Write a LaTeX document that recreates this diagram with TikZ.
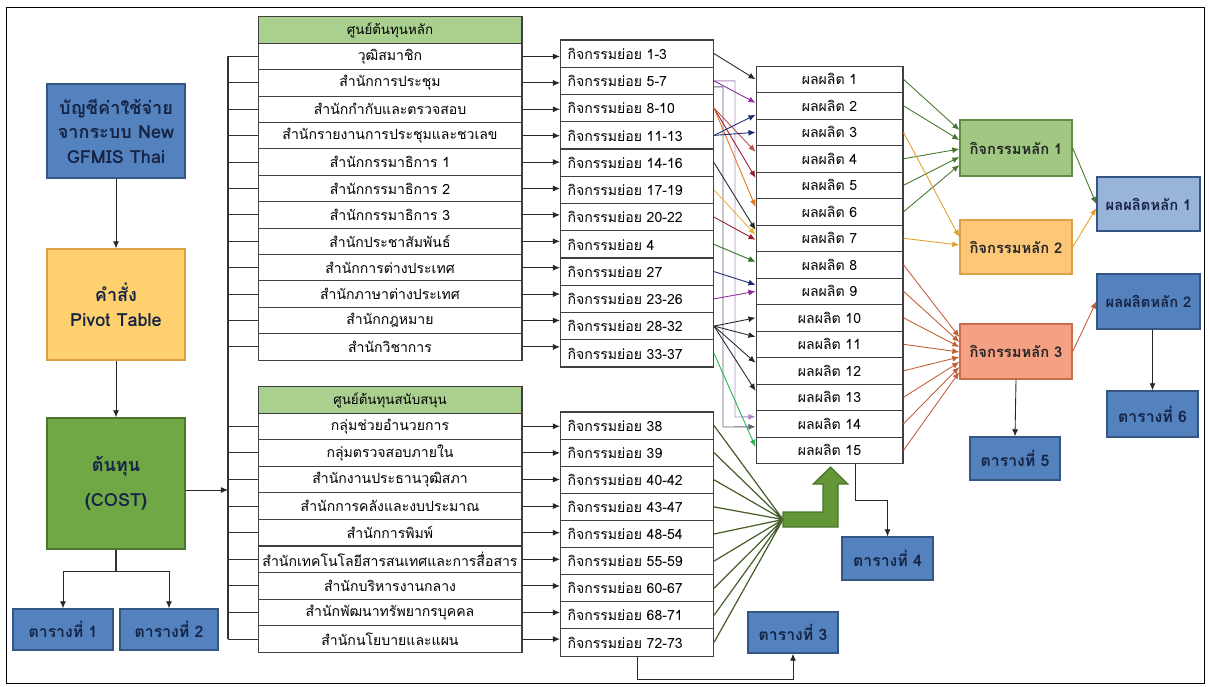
\documentclass[tikz,border=0pt]{standalone}
\usepackage{fontspec}
\newfontfamily\thaifont[Script=Thai]{Loma}
\usetikzlibrary{arrows.meta}

\definecolor{boxblue}{RGB}{84,130,190}
\definecolor{boxblueline}{RGB}{52,86,130}
\definecolor{boxlblue}{RGB}{152,180,216}
\definecolor{boxyellow}{RGB}{255,209,110}
\definecolor{boxyellowline}{RGB}{222,160,70}
\definecolor{boxgreen}{RGB}{112,168,70}
\definecolor{boxgreenline}{RGB}{76,118,44}
\definecolor{headgreen}{RGB}{169,208,142}
\definecolor{actone}{RGB}{160,200,130}
\definecolor{actoneline}{RGB}{100,140,70}
\definecolor{acttwo}{RGB}{252,200,120}
\definecolor{acttwoline}{RGB}{220,160,70}
\definecolor{actthree}{RGB}{244,160,130}
\definecolor{actthreeline}{RGB}{200,110,80}
\definecolor{textnavy}{RGB}{22,36,70}
\definecolor{lnblack}{RGB}{40,40,40}
\definecolor{lnpurple}{RGB}{140,45,150}
\definecolor{lnlav}{RGB}{175,135,195}
\definecolor{lnnavy}{RGB}{30,45,110}
\definecolor{lnslate}{RGB}{95,100,120}
\definecolor{lnred}{RGB}{192,80,77}
\definecolor{lnorange}{RGB}{228,120,30}
\definecolor{lngold}{RGB}{232,180,60}
\definecolor{lndred}{RGB}{150,30,50}
\definecolor{lndgreen}{RGB}{50,110,40}
\definecolor{lngreen}{RGB}{40,180,80}
\definecolor{lnact}{RGB}{70,120,45}
\definecolor{lnactgold}{RGB}{225,160,40}
\definecolor{lnbrown}{RGB}{195,95,55}
\definecolor{lnolive}{RGB}{70,95,45}
\definecolor{arrowgreen}{RGB}{98,150,55}

\begin{document}
\begin{tikzpicture}[
		x=0.02cm, y=-0.02cm,
		font=\thaifont\fontsize{8}{10}\selectfont,
		bigbox/.style={rectangle, line width=0.8pt, align=center, text=textnavy,
			font=\thaifont\bfseries\fontsize{10.3}{14}\selectfont,
			minimum width=2.76cm, inner sep=2pt},
		tbl/.style={rectangle, draw=boxblueline, fill=boxblue, line width=0.8pt,
			text=textnavy, font=\thaifont\bfseries\fontsize{9}{11}\selectfont,
			minimum height=0.82cm, inner sep=0pt},
		ccrow/.style={rectangle, draw=black!75, line width=0.6pt, fill=white,
			minimum width=5.28cm, minimum height=0.53cm, inner sep=0pt},
		cchead/.style={ccrow, fill=headgreen, font=\thaifont\fontsize{7.6}{10}\selectfont},
		subrow/.style={rectangle, draw=black!75, line width=0.6pt, fill=white,
			text width=2.78cm, align=left, inner xsep=0.14cm, inner ysep=0pt,
			minimum height=0.545cm},
		prodrow/.style={rectangle, draw=black!75, line width=0.6pt, fill=white,
			minimum width=2.94cm, minimum height=0.53cm, inner sep=0pt},
		actbox/.style={rectangle, line width=0.8pt, minimum width=2.24cm,
			minimum height=1.1cm, inner sep=0pt, text=black!85,
			font=\thaifont\bfseries\fontsize{8.4}{11}\selectfont},
		seq/.style={-{Latex[length=4pt,width=3.4pt]}, line width=0.5pt, draw=lnblack},
		brk/.style={line width=0.6pt, draw=black!80},
		fanl/.style={line width=0.7pt, draw=lnolive}
	]
		\useasboundingbox (0,0) rectangle (1209,686);
		\draw[line width=0.5pt] (6,7) rectangle (1204,683);
		% คอลัมน์ซ้าย
		\node[bigbox, draw=boxblueline, fill=boxblue, minimum height=1.88cm] (SRC) at (116,131) {บัญชีค่าใช้จ่าย\\จากระบบ New\\GFMIS Thai};
		\node[bigbox, draw=boxyellowline, fill=boxyellow, minimum height=2.22cm] (PIV) at (116,304.5) {คำสั่ง\\Pivot Table};
		\node[bigbox, draw=boxgreenline, fill=boxgreen, minimum height=2.62cm] (COST) at (116,483.5) {ต้นทุน\\[6pt](COST)};
		\node[tbl, minimum width=2.0cm] (T1) at (63,629.5) {ตารางที่ 1};
		\node[tbl, minimum width=1.96cm] (T2) at (169,629.5) {ตารางที่ 2};
		% ศูนย์ต้นทุนหลัก
		\node[cchead] (hCC) at (390,30) {ศูนย์ต้นทุนหลัก};
		\node[ccrow] (CC01) at (390,56.5) {วุฒิสมาชิก};
		\node[ccrow] (CC02) at (390,82.9) {สำนักการประชุม};
		\node[ccrow] (CC03) at (390,109.3) {สำนักกำกับและตรวจสอบ};
		\node[ccrow] (CC04) at (390,135.7) {สำนักรายงานการประชุมและชวเลข};
		\node[ccrow] (CC05) at (390,162.1) {สำนักกรรมาธิการ 1};
		\node[ccrow] (CC06) at (390,188.5) {สำนักกรรมาธิการ 2};
		\node[ccrow] (CC07) at (390,214.9) {สำนักกรรมาธิการ 3};
		\node[ccrow] (CC08) at (390,241.3) {สำนักประชาสัมพันธ์};
		\node[ccrow] (CC09) at (390,267.7) {สำนักการต่างประเทศ};
		\node[ccrow] (CC10) at (390,294.1) {สำนักภาษาต่างประเทศ};
		\node[ccrow] (CC11) at (390,320.5) {สำนักกฎหมาย};
		\node[ccrow] (CC12) at (390,346.9) {สำนักวิชาการ};
		% ศูนย์ต้นทุนสนับสนุน
		\node[cchead] (hSC) at (390,400) {ศูนย์ต้นทุนสนับสนุน};
		\node[ccrow] (SC01) at (390,426.3) {กลุ่มช่วยอำนวยการ};
		\node[ccrow] (SC02) at (390,452.9) {กลุ่มตรวจสอบภายใน};
		\node[ccrow] (SC03) at (390,479.5) {สำนักงานประธานวุฒิสภา};
		\node[ccrow] (SC04) at (390,506.1) {สำนักการคลังและงบประมาณ};
		\node[ccrow] (SC05) at (390,532.7) {สำนักการพิมพ์};
		\node[ccrow] (SC06) at (390,559.3) {สำนักเทคโนโลยีสารสนเทศและการสื่อสาร};
		\node[ccrow] (SC07) at (390,585.9) {สำนักบริหารงานกลาง};
		\node[ccrow] (SC08) at (390,612.5) {สำนักพัฒนาทรัพยากรบุคคล};
		\node[ccrow] (SC09) at (390,639.1) {สำนักนโยบายและแผน};
		% กิจกรรมย่อย
		\node[subrow] (SA01) at (637,53.6) {กิจกรรมย่อย 1-3};
		\node[subrow] (SA02) at (637,80.9) {กิจกรรมย่อย 5-7};
		\node[subrow] (SA03) at (637,108.1) {กิจกรรมย่อย 8-10};
		\node[subrow] (SA04) at (637,135.4) {กิจกรรมย่อย 11-13};
		\node[subrow] (SA05) at (637,162.6) {กิจกรรมย่อย 14-16};
		\node[subrow] (SA06) at (637,189.9) {กิจกรรมย่อย 17-19};
		\node[subrow] (SA07) at (637,217.1) {กิจกรรมย่อย 20-22};
		\node[subrow] (SA08) at (637,244.4) {กิจกรรมย่อย 4};
		\node[subrow] (SA09) at (637,271.6) {กิจกรรมย่อย 27};
		\node[subrow] (SA10) at (637,298.9) {กิจกรรมย่อย 23-26};
		\node[subrow] (SA11) at (637,326.1) {กิจกรรมย่อย 28-32};
		\node[subrow] (SA12) at (637,353.4) {กิจกรรมย่อย 33-37};
		\node[subrow] (SB01) at (637,425.6) {กิจกรรมย่อย 38};
		\node[subrow] (SB02) at (637,452.7) {กิจกรรมย่อย 39};
		\node[subrow] (SB03) at (637,479.8) {กิจกรรมย่อย 40-42};
		\node[subrow] (SB04) at (637,506.9) {กิจกรรมย่อย 43-47};
		\node[subrow] (SB05) at (637,534.0) {กิจกรรมย่อย 48-54};
		\node[subrow] (SB06) at (637,561.1) {กิจกรรมย่อย 55-59};
		\node[subrow] (SB07) at (637,588.2) {กิจกรรมย่อย 60-67};
		\node[subrow] (SB08) at (637,615.3) {กิจกรรมย่อย 68-71};
		\node[subrow] (SB09) at (637,642.4) {กิจกรรมย่อย 72-73};
		% ผลผลิต
		\node[prodrow] (PD01) at (829.5,79.3) {ผลผลิต 1};
		\node[prodrow] (PD02) at (829.5,105.8) {ผลผลิต 2};
		\node[prodrow] (PD03) at (829.5,132.3) {ผลผลิต 3};
		\node[prodrow] (PD04) at (829.5,158.8) {ผลผลิต 4};
		\node[prodrow] (PD05) at (829.5,185.3) {ผลผลิต 5};
		\node[prodrow] (PD06) at (829.5,211.8) {ผลผลิต 6};
		\node[prodrow] (PD07) at (829.5,238.3) {ผลผลิต 7};
		\node[prodrow] (PD08) at (829.5,264.8) {ผลผลิต 8};
		\node[prodrow] (PD09) at (829.5,291.3) {ผลผลิต 9};
		\node[prodrow] (PD10) at (829.5,317.8) {ผลผลิต 10};
		\node[prodrow] (PD11) at (829.5,344.3) {ผลผลิต 11};
		\node[prodrow] (PD12) at (829.5,370.8) {ผลผลิต 12};
		\node[prodrow] (PD13) at (829.5,397.3) {ผลผลิต 13};
		\node[prodrow] (PD14) at (829.5,423.8) {ผลผลิต 14};
		\node[prodrow] (PD15) at (829.5,450.3) {ผลผลิต 15};
		% กิจกรรมหลัก + ผลผลิตหลัก
		\node[actbox, draw=actoneline, fill=actone, minimum height=1.12cm] (MA1) at (1016,148) {กิจกรรมหลัก 1};
		\node[actbox, draw=acttwoline, fill=acttwo, minimum height=1.08cm] (MA2) at (1016,247) {กิจกรรมหลัก 2};
		\node[actbox, draw=actthreeline, fill=actthree] (MA3) at (1016,351.5) {กิจกรรมหลัก 3};
		\node[actbox, draw=boxblueline, fill=boxlblue, text=textnavy, minimum width=2.06cm, minimum height=1.08cm] (MP1) at (1148.5,204) {ผลผลิตหลัก 1};
		\node[actbox, draw=boxblueline, fill=boxblue, text=textnavy, minimum width=2.06cm] (MP2) at (1148.5,301.5) {ผลผลิตหลัก 2};
		\node[tbl, minimum width=1.8cm] (T3) at (793,632.5) {ตารางที่ 3};
		\node[tbl, minimum width=1.82cm, minimum height=0.86cm] (T4) at (887.5,558.5) {ตารางที่ 4};
		\node[tbl, minimum width=1.8cm, minimum height=0.86cm] (T5) at (1015,458.5) {ตารางที่ 5};
		\node[tbl, minimum width=1.82cm, minimum height=0.92cm] (T6) at (1152.5,414) {ตารางที่ 6};
		% ลำดับคอลัมน์ซ้าย
		\draw[seq] (SRC) -- (PIV);
		\draw[seq] (PIV) -- (COST);
		\coordinate (B12) at (116,571);
		\draw[brk] (COST.south) -- (B12);
		\draw[seq] (B12) -| (T1.north);
		\draw[seq] (B12) -| (T2.north);
		% วงเล็บรวมศูนย์ต้นทุน
		\coordinate (BR) at (228,0);
		\coordinate (BRin) at (228,490);
		\draw[seq] (COST.east |- BRin) -- (BRin);
		\draw[brk] (BR |- CC01) -- (BR |- SC09);
		\draw[brk] (BR |- CC01) -- (CC01.west) (BR |- CC02) -- (CC02.west) (BR |- CC03) -- (CC03.west)
			(BR |- CC04) -- (CC04.west) (BR |- CC05) -- (CC05.west) (BR |- CC06) -- (CC06.west)
			(BR |- CC07) -- (CC07.west) (BR |- CC08) -- (CC08.west) (BR |- CC09) -- (CC09.west)
			(BR |- CC10) -- (CC10.west) (BR |- CC11) -- (CC11.west) (BR |- CC12) -- (CC12.west);
		\draw[brk] (BR |- SC01) -- (SC01.west) (BR |- SC02) -- (SC02.west) (BR |- SC03) -- (SC03.west)
			(BR |- SC04) -- (SC04.west) (BR |- SC05) -- (SC05.west) (BR |- SC06) -- (SC06.west)
			(BR |- SC07) -- (SC07.west) (BR |- SC08) -- (SC08.west) (BR |- SC09) -- (SC09.west);
		% ศูนย์ต้นทุน -> กิจกรรมย่อย
		\draw[seq] (CC01.east) -- (CC01.east -| SA01.west);
		\draw[seq] (CC02.east) -- (CC02.east -| SA02.west);
		\draw[seq] (CC03.east) -- (CC03.east -| SA03.west);
		\draw[seq] (CC04.east) -- (CC04.east -| SA04.west);
		\draw[seq] (CC05.east) -- (CC05.east -| SA05.west);
		\draw[seq] (CC06.east) -- (CC06.east -| SA06.west);
		\draw[seq] (CC07.east) -- (CC07.east -| SA07.west);
		\draw[seq] (CC08.east) -- (CC08.east -| SA08.west);
		\draw[seq] (CC09.east) -- (CC09.east -| SA09.west);
		\draw[seq] (CC10.east) -- (CC10.east -| SA10.west);
		\draw[seq] (CC11.east) -- (CC11.east -| SA11.west);
		\draw[seq] (CC12.east) -- (CC12.east -| SA12.west);
		\draw[seq] (SC01.east) -- (SC01.east -| SB01.west);
		\draw[seq] (SC02.east) -- (SC02.east -| SB02.west);
		\draw[seq] (SC03.east) -- (SC03.east -| SB03.west);
		\draw[seq] (SC04.east) -- (SC04.east -| SB04.west);
		\draw[seq] (SC05.east) -- (SC05.east -| SB05.west);
		\draw[seq] (SC06.east) -- (SC06.east -| SB06.west);
		\draw[seq] (SC07.east) -- (SC07.east -| SB07.west);
		\draw[seq] (SC08.east) -- (SC08.east -| SB08.west);
		\draw[seq] (SC09.east) -- (SC09.east -| SB09.west);
		% กิจกรรมย่อย -> ผลผลิต
		\coordinate (R1) at (735,417);
		\coordinate (R2) at (723,427);
		\draw[seq, draw=lnlav] (SA02.east) -| (R1) -- ([yshift=0.14cm]PD14.west);
		\draw[seq, draw=lnslate] ([yshift=-0.12cm]SA02.east) -| (R2) -- ([yshift=-0.06cm]PD14.west);
		\draw[seq] (SA01.east) -- (PD01.west);
		\draw[seq, draw=lnpurple] (SA02.east) -- ([yshift=0.06cm]PD02.west);
		\draw[seq, draw=lnred] (SA03.east) -- ([yshift=0.14cm]PD04.west);
		\draw[seq, draw=lndred] (SA03.east) -- ([yshift=0.15cm]PD05.west);
		\draw[seq, draw=lnorange] (SA03.east) -- ([yshift=0.1cm]PD06.west);
		\draw[seq, draw=lnnavy] (SA04.east) -- ([yshift=-0.18cm]PD02.west);
		\draw[seq, draw=lnnavy] (SA04.east) -- (PD03.west);
		\draw[seq] (SA05.east) -- ([yshift=0.17cm]PD07.west);
		\draw[seq, draw=lngold] (SA06.east) -- ([yshift=0.07cm]PD07.west);
		\draw[seq, draw=lndred] (SA07.east) -- ([yshift=-0.03cm]PD07.west);
		\draw[seq, draw=lndgreen] (SA08.east) -- ([yshift=0.06cm]PD08.west);
		\draw[seq, draw=lnnavy] (SA09.east) -- ([yshift=0.13cm]PD09.west);
		\draw[seq, draw=lnpurple] (SA10.east) -- (PD09.west);
		\draw[seq] (SA11.east) -- (PD10.west);
		\draw[seq] (SA11.east) -- ([yshift=0.15cm]PD11.west);
		\draw[seq] (SA11.east) -- ([yshift=0.16cm]PD12.west);
		\draw[seq] (SA11.east) -- ([yshift=0.13cm]PD13.west);
		\draw[seq, draw=lngreen] (SA12.east) -- ([yshift=0.07cm]PD15.west);
		% กิจกรรมย่อยสนับสนุน -> ผลผลิต
		\coordinate (FAN) at (783,519.5);
		\draw[fanl] (SB01.east) -- (FAN) (SB02.east) -- (FAN) (SB03.east) -- (FAN)
			(SB04.east) -- (FAN) (SB05.east) -- (FAN) (SB06.east) -- (FAN)
			(SB07.east) -- (FAN) (SB08.east) -- (FAN) (SB09.east) -- (FAN);
		\draw[draw=boxgreenline, fill=arrowgreen, line width=0.6pt]
			(FAN) -- (783,512) -- (823,512) -- (823,484) -- (813,484) -- (830.5,467)
			-- (848,484) -- (838,484) -- (838,527) -- (783,527) -- cycle;
		% ผลผลิต -> กิจกรรมหลัก
		\draw[seq, draw=lnact] (PD01.east) -- ([yshift=0.36cm]MA1.west);
		\draw[seq, draw=lnact] (PD02.east) -- ([yshift=0.16cm]MA1.west);
		\draw[seq, draw=lnact] (PD04.east) -- ([yshift=-0.02cm]MA1.west);
		\draw[seq, draw=lnact] (PD05.east) -- ([yshift=-0.18cm]MA1.west);
		\draw[seq, draw=lnact] (PD06.east) -- ([yshift=-0.34cm]MA1.west);
		\draw[seq, draw=lnactgold] (PD03.east) -- ([yshift=0.2cm]MA2.west);
		\draw[seq, draw=lnactgold] (PD07.east) -- ([yshift=0.04cm]MA2.west);
		\draw[seq, draw=lnbrown] (PD08.east) -- ([yshift=0.29cm]MA3.west);
		\draw[seq, draw=lnbrown] (PD09.east) -- ([yshift=0.19cm]MA3.west);
		\draw[seq, draw=lnbrown] (PD10.east) -- ([yshift=0.09cm]MA3.west);
		\draw[seq, draw=lnbrown] (PD11.east) -- ([yshift=-0.01cm]MA3.west);
		\draw[seq, draw=lnbrown] (PD12.east) -- ([yshift=-0.11cm]MA3.west);
		\draw[seq, draw=lnbrown] (PD13.east) -- ([yshift=-0.21cm]MA3.west);
		\draw[seq, draw=lnbrown] (PD14.east) -- ([yshift=-0.31cm]MA3.west);
		\draw[seq, draw=lnbrown] (PD15.east) -- ([yshift=-0.41cm]MA3.west);
		% กิจกรรมหลัก -> ผลผลิตหลัก
		\draw[seq, draw=lnact] (MA1.east) -- (MP1.west);
		\draw[seq, draw=lnactgold] (MA2.east) -- ([yshift=-0.08cm]MP1.west);
		\draw[seq, draw=lnbrown] (MA3.east) -- (MP2.west);
		% ตาราง
		\coordinate (B3) at (793,679);
		\coordinate (B4) at (887.5,500);
		\draw[seq] (SB09.south) |- (B3) -- (T3.south);
		\draw[seq] ([xshift=0.51cm]PD15.south) |- (B4) -- (T4.north);
		\draw[seq] (MA3.south) -- (T5.north);
		\draw[seq] (MP2.south -| T6.north) -- (T6.north);
	\end{tikzpicture}
\end{document}
